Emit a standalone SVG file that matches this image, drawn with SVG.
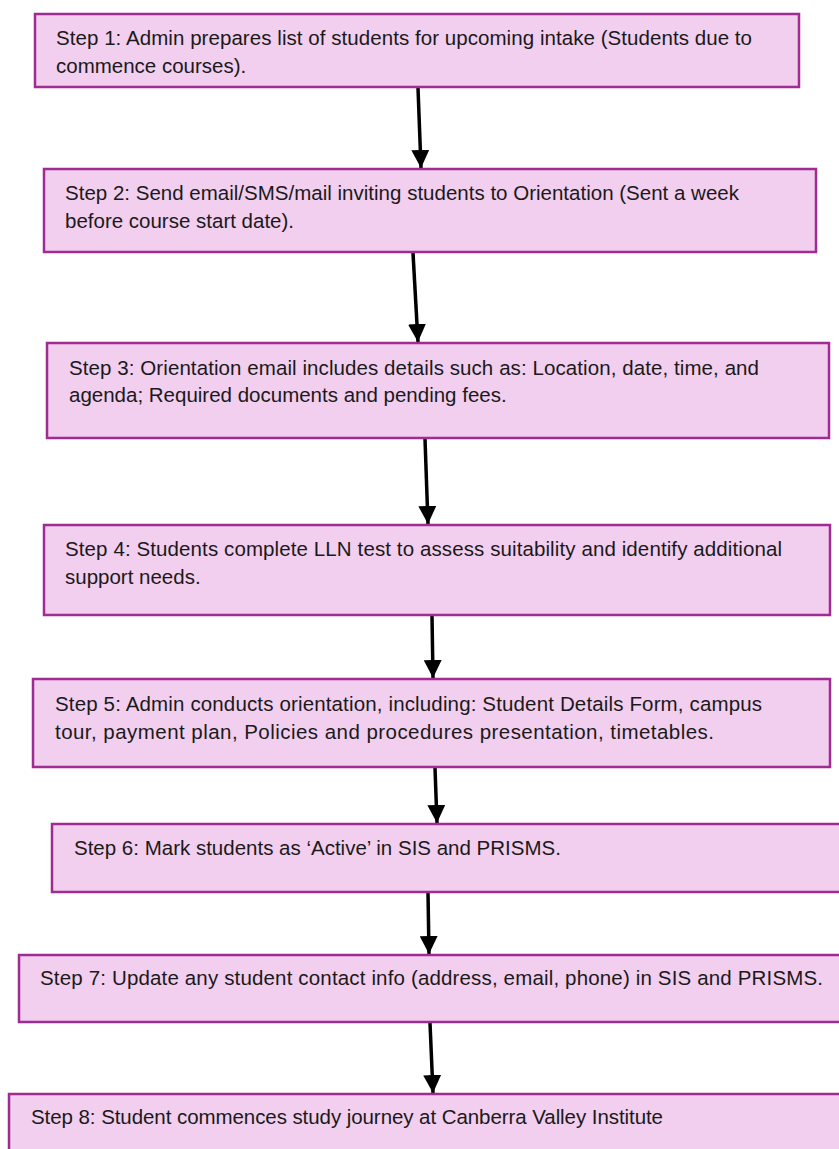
<svg xmlns="http://www.w3.org/2000/svg" width="839" height="1149" viewBox="0 0 839 1149">
<defs>
<style>
.box{fill:#F2CEEF;stroke:#A02B93;stroke-width:2.5}
.t{font-family:"Liberation Sans",Arial,sans-serif;font-size:20.5px;fill:#1a1a1a}
.c{stroke:#000;stroke-width:3.5;fill:none;marker-end:url(#ah)}
</style>
<marker id="ah" markerUnits="userSpaceOnUse" markerWidth="18" markerHeight="18" viewBox="0 0 16 16" refX="16" refY="8" orient="auto">
<path d="M0,0 L16,8 L0,16 Z" fill="#000"/>
</marker>
</defs>
<rect width="839" height="1149" fill="#fff"/>
<g id="connectors">
<line class="c" x1="418" y1="88" x2="421" y2="168"/>
<line class="c" x1="413" y1="253" x2="418" y2="342"/>
<line class="c" x1="425" y1="439" x2="428" y2="524"/>
<line class="c" x1="432" y1="616" x2="433" y2="678"/>
<line class="c" x1="435" y1="768" x2="437" y2="823"/>
<line class="c" x1="428" y1="893" x2="429" y2="954"/>
<line class="c" x1="430" y1="1023" x2="433" y2="1093"/>
</g>
<g id="step1"><rect class="box" x="35" y="14" width="764" height="73"/>
<text class="t" x="56" y="45" textLength="696" lengthAdjust="spacing">Step 1: Admin prepares list of students for upcoming intake (Students due to</text>
<text class="t" x="56" y="73">commence courses).</text></g>
<g id="step2"><rect class="box" x="44" y="169" width="772" height="83"/>
<text class="t" x="65" y="200" textLength="674" lengthAdjust="spacing">Step 2: Send email/SMS/mail inviting students to Orientation (Sent a week</text>
<text class="t" x="65" y="228">before course start date).</text></g>
<g id="step3"><rect class="box" x="47" y="343" width="782" height="95"/>
<text class="t" x="69" y="375" textLength="690" lengthAdjust="spacing">Step 3: Orientation email includes details such as: Location, date, time, and</text>
<text class="t" x="69" y="402">agenda; Required documents and pending fees.</text></g>
<g id="step4"><rect class="box" x="44" y="525" width="786" height="90"/>
<text class="t" x="65" y="556" textLength="717" lengthAdjust="spacing">Step 4: Students complete LLN test to assess suitability and identify additional</text>
<text class="t" x="65" y="584">support needs.</text></g>
<g id="step5"><rect class="box" x="33" y="679" width="797" height="88"/>
<text class="t" x="55" y="711" textLength="707" lengthAdjust="spacing">Step 5: Admin conducts orientation, including: Student Details Form, campus</text>
<text class="t" x="55" y="739" textLength="659" lengthAdjust="spacing">tour, payment plan, Policies and procedures presentation, timetables.</text></g>
<g id="step6"><rect class="box" x="52" y="824" width="800" height="68"/>
<text class="t" x="74" y="855">Step 6: Mark students as ‘Active’ in SIS and PRISMS.</text></g>
<g id="step7"><rect class="box" x="19" y="955" width="840" height="67"/>
<text class="t" x="40" y="985" textLength="783" lengthAdjust="spacing">Step 7: Update any student contact info (address, email, phone) in SIS and PRISMS.</text></g>
<g id="step8"><rect class="box" x="9" y="1094" width="850" height="80"/>
<text class="t" x="31" y="1124" textLength="632" lengthAdjust="spacing">Step 8: Student commences study journey at Canberra Valley Institute</text></g>
</svg>
